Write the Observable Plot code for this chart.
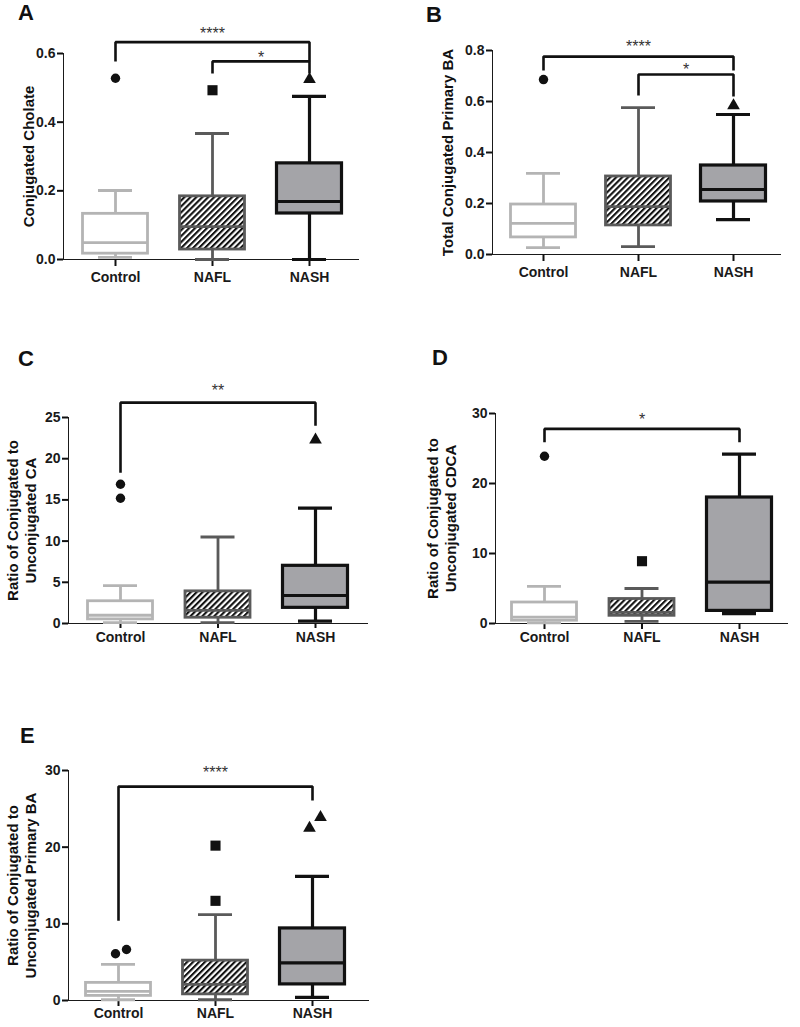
<!DOCTYPE html>
<html>
<head>
<meta charset="utf-8">
<script src="https://cdn.jsdelivr.net/npm/d3@7"></script>
<script src="https://cdn.jsdelivr.net/npm/@observablehq/plot@0.6"></script>
<style>
  html, body { margin: 0; padding: 0; background: #fff; }
  body { width: 800px; height: 1027px; position: relative; overflow: hidden; font-family: "Liberation Sans", Arial, sans-serif; }
  .panel { position: absolute; }
  .letter { position: absolute; font: bold 22px "Liberation Sans", Arial, sans-serif; color: #111; line-height: 1; }
  .panel svg g[aria-label*="axis"] path,
  .panel svg g[aria-label*="axis"] line { stroke: #111; stroke-width: 2px; }
</style>
</head>
<body>
<svg width="0" height="0" style="position:absolute">
  <defs>
    <pattern id="hatch" patternUnits="userSpaceOnUse" width="4.2" height="4.2" patternTransform="rotate(45)">
      <rect width="4.2" height="4.2" fill="#ffffff"></rect>
      <rect width="2.1" height="4.2" fill="#111111"></rect>
    </pattern>
  </defs>
</svg>
<script>
const groups = ["Control", "NAFL", "NASH"];

// ---- Panel A: Conjugated Cholate
const aMin = [0.006, 0.0, 0.0];
const aQ1 = [0.017, 0.029, 0.134];
const aMedian = [0.049, 0.096, 0.169];
const aQ3 = [0.133, 0.184, 0.280];
const aMax = [0.201, 0.367, 0.475];
const aOutlierGroup = ["Control", "NAFL", "NASH"];
const aOutlierValue = [0.528, 0.493, 0.525];
const aTicks = [0, 0.2, 0.4, 0.6];
const aBracketFrom = ["Control", "NAFL"];
const aBracketTo = ["NASH", "NASH"];
const aBracketTop = [0.633, 0.577];
const aBracketLegFrom = [0.577, 0.542];
const aBracketLegTo = [0.577, 0.542];
const aStars = ["****", "*"];
const aStarValue = [0.658, 0.588];

// ---- Panel B: Total Conjugated Primary BA
const bMin = [0.027, 0.031, 0.137];
const bQ1 = [0.067, 0.114, 0.208];
const bMedian = [0.122, 0.188, 0.255];
const bQ3 = [0.196, 0.306, 0.349];
const bMax = [0.318, 0.576, 0.549];
const bOutlierGroup = ["Control", "NASH"];
const bOutlierValue = [0.686, 0.584];
const bTicks = [0, 0.2, 0.4, 0.6, 0.8];
const bBracketFrom = ["Control", "NAFL"];
const bBracketTo = ["NASH", "NASH"];
const bBracketTop = [0.776, 0.706];
const bBracketLegFrom = [0.722, 0.624];
const bBracketLegTo = [0.722, 0.620];
const bStars = ["****", "*"];
const bStarValue = [0.816, 0.725];

// ---- Panel C: Ratio of Conjugated to Unconjugated CA
const cMin = [0.1, 0.1, 0.3];
const cQ1 = [0.5, 0.7, 1.9];
const cMedian = [1.0, 1.6, 3.4];
const cQ3 = [2.7, 3.9, 7.0];
const cMax = [4.6, 10.5, 14.0];
const cOutlierGroup = ["Control", "Control", "NASH"];
const cOutlierValue = [16.9, 15.2, 22.3];
const cTicks = [0, 5, 10, 15, 20, 25];
const cBracketFrom = ["Control"];
const cBracketTo = ["NASH"];
const cBracketTop = [26.8];
const cBracketLegFrom = [18.3];
const cBracketLegTo = [24.0];
const cStars = ["**"];
const cStarValue = [28.2];

// ---- Panel D: Ratio of Conjugated to Unconjugated CDCA
const dMin = [0.1, 0.3, 1.4];
const dQ1 = [0.4, 1.1, 1.8];
const dMedian = [0.9, 1.6, 5.9];
const dQ3 = [3.0, 3.5, 18.0];
const dMax = [5.3, 5.0, 24.2];
const dOutlierGroup = ["Control", "NAFL"];
const dOutlierValue = [23.9, 8.9];
const dTicks = [0, 10, 20, 30];
const dBracketFrom = ["Control"];
const dBracketTo = ["NASH"];
const dBracketTop = [27.8];
const dBracketLegFrom = [25.9];
const dBracketLegTo = [25.9];
const dStars = ["*"];
const dStarValue = [29.1];

// ---- Panel E: Ratio of Conjugated to Unconjugated Primary BA
const eMin = [0.1, 0.1, 0.4];
const eQ1 = [0.6, 0.8, 2.1];
const eMedian = [1.2, 2.1, 4.9];
const eQ3 = [2.3, 5.2, 9.4];
const eMax = [4.7, 11.2, 16.2];
const eOutlierGroup = ["Control", "Control", "NAFL", "NAFL", "NASH", "NASH"];
const eOutlierValue = [6.1, 6.65, 13.0, 20.2, 22.5, 23.9];
const eTicks = [0, 10, 20, 30];
const eBracketFrom = ["Control"];
const eBracketTo = ["NASH"];
const eBracketTop = [27.9];
const eBracketLegFrom = [10.4];
const eBracketLegTo = [26.1];
const eStars = ["****"];
const eStarValue = [29.7];

// group styles
const styles = {
  Control: {stroke: "#b4b4b4", fill: "#ffffff", symbol: "circle", r: 4.7, w: 2.8},
  NAFL: {stroke: "#5a5a5a", fill: "url(#hatch)", symbol: "square", r: 5.7, w: 2.8},
  NASH: {stroke: "#111111", fill: "#a4a4a8", symbol: "triangle", r: 4.7, w: 3.2}
};

const fmt1 = d3.format(".1f");
const fmt0 = d3.format("d");

const panels = [
  {letter: "A", left: 0, top: 0, w: 400, h: 300, axisX: 63, axisEnd: 358, c0: 115, c2: 309, yTop: 53, yBottom: 259,
   yDomain: [0, 0.6], ticks: aTicks, fmt: fmt1, label: "Conjugated Cholate", labelDx: -35,
   xTickSize: 7, xTickPadding: 6, letterX: 18, letterY: 2,
   min: aMin, q1: aQ1, med: aMedian, q3: aQ3, max: aMax, outGroup: aOutlierGroup, outValue: aOutlierValue,
   bFrom: aBracketFrom, bTo: aBracketTo, bTop: aBracketTop, bLegFrom: aBracketLegFrom, bLegTo: aBracketLegTo, stars: aStars, starValue: aStarValue},
  {letter: "B", left: 400, top: 0, w: 400, h: 300, axisX: 92, axisEnd: 380, c0: 143, c2: 333, yTop: 50, yBottom: 254,
   yDomain: [0, 0.8], ticks: bTicks, fmt: fmt1, label: "Total Conjugated Primary BA", labelDx: -45,
   xTickSize: 7, xTickPadding: 6, letterX: 426, letterY: 4,
   min: bMin, q1: bQ1, med: bMedian, q3: bQ3, max: bMax, outGroup: bOutlierGroup, outValue: bOutlierValue,
   bFrom: bBracketFrom, bTo: bBracketTo, bTop: bBracketTop, bLegFrom: bBracketLegFrom, bLegTo: bBracketLegTo, stars: bStars, starValue: bStarValue},
  {letter: "C", left: 0, top: 330, w: 400, h: 330, axisX: 68, axisEnd: 367, c0: 120, c2: 315, yTop: 87, yBottom: 293,
   yDomain: [0, 25], ticks: cTicks, fmt: fmt0, label: "Ratio of Conjugated to\nUnconjugated CA", labelDx: -47,
   xTickSize: 5, xTickPadding: 4, letterX: 18, letterY: 348,
   min: cMin, q1: cQ1, med: cMedian, q3: cQ3, max: cMax, outGroup: cOutlierGroup, outValue: cOutlierValue,
   bFrom: cBracketFrom, bTo: cBracketTo, bTop: cBracketTop, bLegFrom: cBracketLegFrom, bLegTo: cBracketLegTo, stars: cStars, starValue: cStarValue},
  {letter: "D", left: 400, top: 330, w: 400, h: 330, axisX: 95, axisEnd: 387, c0: 144, c2: 339, yTop: 83, yBottom: 293,
   yDomain: [0, 30], ticks: dTicks, fmt: fmt0, label: "Ratio of Conjugated to\nUnconjugated CDCA", labelDx: -54,
   xTickSize: 6, xTickPadding: 3, letterX: 432, letterY: 347,
   min: dMin, q1: dQ1, med: dMedian, q3: dQ3, max: dMax, outGroup: dOutlierGroup, outValue: dOutlierValue,
   bFrom: dBracketFrom, bTo: dBracketTo, bTop: dBracketTop, bLegFrom: dBracketLegFrom, bLegTo: dBracketLegTo, stars: dStars, starValue: dStarValue},
  {letter: "E", left: 0, top: 720, w: 400, h: 307, axisX: 68, axisEnd: 368, c0: 118, c2: 312, yTop: 50, yBottom: 280,
   yDomain: [0, 30], ticks: eTicks, fmt: fmt0, label: "Ratio of Conjugated to\nUnconjugated Primary BA", labelDx: -47,
   xTickSize: 6, xTickPadding: 2, letterX: 20, letterY: 725,
   min: eMin, q1: eQ1, med: eMedian, q3: eQ3, max: eMax, outGroup: eOutlierGroup, outValue: eOutlierValue,
   bFrom: eBracketFrom, bTo: eBracketTo, bTop: eBracketTop, bLegFrom: eBracketLegFrom, bLegTo: eBracketLegTo, stars: eStars, starValue: eStarValue}
];

function buildPanel(p) {
  const step = (p.c2 - p.c0) / 2;
  const xDomain = [-(p.c0 - p.axisX) / step, 2 + (p.axisEnd - p.c2) / step];
  const boxHalf = 32.5 / step;
  const capHalf = 17 / step;
  const pxPerUnit = (p.yBottom - p.yTop) / (p.yDomain[1] - p.yDomain[0]);

  const stats = groups.map((g, i) => ({g, i, min: p.min[i], q1: p.q1[i], med: p.med[i], q3: p.q3[i], max: p.max[i]}));
  const outliers = p.outGroup.map((g, k) => ({g, i: groups.indexOf(g), v: p.outValue[k], off: 0}));
  // side-by-side placement of overlapping outliers
  groups.forEach((g, i) => {
    const o = outliers.filter(d => d.i === i).sort((a, b) => a.v - b.v);
    for (let k = 1; k < o.length; k++) {
      if ((o[k].v - o[k - 1].v) * pxPerUnit < 12) { o[k - 1].off = -3 / step; o[k].off = 8 / step; }
    }
  });

  const marks = [];
  groups.forEach((g, i) => {
    const s = styles[g];
    const d = stats.filter(r => r.i === i);
    const common = {stroke: s.stroke, strokeWidth: s.w};
    marks.push(Plot.ruleX(d, {x: "i", y1: "q3", y2: "max", ...common}));
    marks.push(Plot.ruleX(d, {x: "i", y1: "min", y2: "q1", ...common}));
    marks.push(Plot.ruleY(d, {y: "max", x1: r => r.i - capHalf, x2: r => r.i + capHalf, ...common}));
    marks.push(Plot.ruleY(d, {y: "min", x1: r => r.i - capHalf, x2: r => r.i + capHalf, ...common}));
    marks.push(Plot.rect(d, {x1: r => r.i - boxHalf, x2: r => r.i + boxHalf, y1: "q1", y2: "q3", fill: s.fill, ...common}));
    marks.push(Plot.ruleY(d, {y: "med", x1: r => r.i - boxHalf, x2: r => r.i + boxHalf, ...common}));
    marks.push(Plot.dot(outliers.filter(o => o.i === i), {x: o => o.i + o.off, y: "v", symbol: s.symbol, r: s.r, fill: "#111", stroke: "none"}));
  });

  const bracketPts = p.bFrom.flatMap((f, k) => {
    const a = groups.indexOf(f), b = groups.indexOf(p.bTo[k]);
    return [
      {k, x: a, y: p.bLegFrom[k]}, {k, x: a, y: p.bTop[k]},
      {k, x: b, y: p.bTop[k]}, {k, x: b, y: p.bLegTo[k]}
    ];
  });
  marks.push(Plot.line(bracketPts, {x: "x", y: "y", z: "k", stroke: "#111", strokeWidth: 2.6, strokeLinejoin: "miter", strokeLinecap: "butt"}));
  const starRows = p.stars.map((t, k) => ({t, x: (groups.indexOf(p.bFrom[k]) + groups.indexOf(p.bTo[k])) / 2, y: p.starValue[k]}));
  marks.push(Plot.text(starRows, {x: "x", y: "y", text: "t", fontSize: 16, fontWeight: "normal", fill: "#333"}));

  marks.push(Plot.text([p.label], {text: d => d, frameAnchor: "left", textAnchor: "middle", lineAnchor: "middle", rotate: -90, dx: p.labelDx, fontSize: 15, fontWeight: "bold", lineHeight: 1.15, fill: "#111"}));

  return Plot.plot({
    width: p.w,
    height: p.h,
    marginLeft: p.axisX,
    marginRight: p.w - p.axisEnd,
    marginTop: p.yTop,
    marginBottom: p.h - p.yBottom,
    x: {domain: xDomain, ticks: [0, 1, 2], tickFormat: i => groups[i], tickSize: p.xTickSize, tickPadding: p.xTickPadding, line: true, label: null},
    y: {domain: p.yDomain, ticks: p.ticks, tickFormat: p.fmt, tickSize: 6, tickPadding: 2, line: true, label: null},
    style: {fontFamily: "'Liberation Sans', Arial, sans-serif", fontSize: "14px", fontWeight: "bold", color: "#1a1a1a", background: "transparent", overflow: "visible"},
    marks
  });
}

for (const p of panels) {
  const div = document.createElement("div");
  div.className = "panel";
  div.style.left = p.left + "px";
  div.style.top = p.top + "px";
  div.appendChild(buildPanel(p));
  document.body.appendChild(div);
  const L = document.createElement("div");
  L.className = "letter";
  L.style.left = p.letterX + "px";
  L.style.top = p.letterY + "px";
  L.textContent = p.letter;
  document.body.appendChild(L);
}
</script>
</body>
</html>
